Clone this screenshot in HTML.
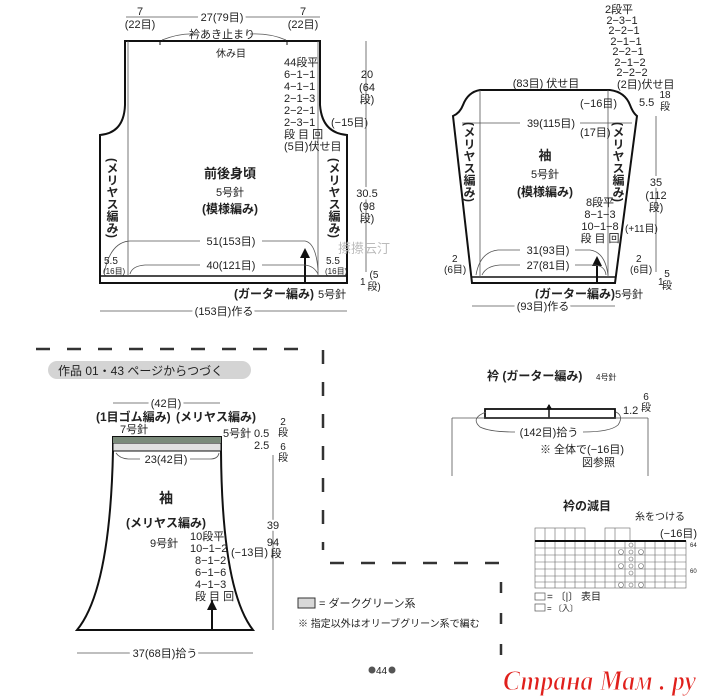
<!DOCTYPE html>
<html><head><meta charset="utf-8"><style>
html,body{margin:0;padding:0;background:#fff;}
svg{display:block;}
text{font-family:"Liberation Sans","Noto Sans CJK JP",sans-serif;fill:#222;}
.s{font-size:10px;}
.m{font-size:11px;}
.b{font-size:12px;font-weight:bold;}
.t{fill:none;stroke:#555;stroke-width:0.8;}
</style></head><body>
<svg width="709" height="700" viewBox="0 0 709 700" xmlns="http://www.w3.org/2000/svg">
<rect width="709" height="700" fill="#fff"/>
<!-- ========== Body ========== -->
<path d="M125,41 L320,41 L320,105 Q322,133 347,135 L347,283 L100,283 L100,135 Q124,133 125,105 Z" fill="none" stroke="#111" stroke-width="2"/>
<line x1="100" y1="276" x2="347" y2="276" stroke="#111" stroke-width="1.5"/>
<line x1="128" y1="41" x2="128" y2="276" class="t"/>
<line x1="318" y1="41" x2="318" y2="276" class="t"/>
<line x1="305" y1="250" x2="305" y2="283" stroke="#111" stroke-width="2"/>
<path d="M300,258 L305,248 L310,258 Z" fill="#111"/>
<line x1="160" y1="41" x2="160" y2="45" stroke="#111"/>
<line x1="287" y1="41" x2="287" y2="45" stroke="#111"/>
<line x1="126" y1="17" x2="320" y2="17" class="t"/>
<text x="140" y="15" class="m" text-anchor="middle">7</text>
<text x="140" y="28" class="m" text-anchor="middle">(22目)</text>
<text x="222" y="21" class="m" text-anchor="middle" style="paint-order:stroke;stroke:#fff;stroke-width:6px">27(79目)</text>
<text x="303" y="15" class="m" text-anchor="middle">7</text>
<text x="303" y="28" class="m" text-anchor="middle">(22目)</text>
<path d="M162,40 Q180,33 195,34 M250,34 Q270,33 286,40" class="t"/>
<text x="222" y="38" class="m" text-anchor="middle">衿あき止まり</text>
<text x="231" y="57" class="s" text-anchor="middle">休み目</text>
<text x="284" y="66" class="m">44段平</text>
<text x="284" y="78" class="m">6−1−1</text>
<text x="284" y="90" class="m">4−1−1</text>
<text x="284" y="102" class="m">2−1−3</text>
<text x="284" y="114" class="m">2−2−1</text>
<text x="284" y="126" class="m">2−3−1</text>
<text x="284" y="138" class="m">段 目 回</text>
<text x="284" y="150" class="m">(5目)伏せ目</text>
<text x="331" y="126" class="m">(−15目)</text>
<line x1="366" y1="41" x2="366" y2="272" class="t"/>
<text x="367" y="78" class="m" text-anchor="middle">20</text>
<text x="367" y="91" class="m" text-anchor="middle">(64</text>
<text x="367" y="103" class="m" text-anchor="middle">段)</text>
<text x="367" y="197" class="m" text-anchor="middle" style="paint-order:stroke;stroke:#fff;stroke-width:5px">30.5</text>
<text x="367" y="210" class="m" text-anchor="middle">(98</text>
<text x="367" y="222" class="m" text-anchor="middle">段)</text>
<text x="360" y="285" class="s">1</text>
<text x="374" y="278" class="s" text-anchor="middle">(5</text>
<text x="374" y="290" class="s" text-anchor="middle">段)</text>
<text x="230" y="178" class="b" text-anchor="middle" style="font-size:13px">前後身頃</text>
<text x="230" y="196" class="m" text-anchor="middle">5号針</text>
<text x="230" y="213" class="b" text-anchor="middle">(模様編み)</text>
<text x="112" y="198" class="b" text-anchor="middle" style="writing-mode:vertical-rl">(メリヤス編み)</text>
<text x="334" y="198" class="b" text-anchor="middle" style="writing-mode:vertical-rl">(メリヤス編み)</text>
<path d="M104,274 Q110,242 130,241 L200,241 M262,241 L305,241 Q316,243 318,270" class="t"/>
<text x="231" y="245" class="m" text-anchor="middle">51(153目)</text>
<path d="M130,274 Q132,266 145,265 L200,265 M262,265 L305,265 Q314,266 318,274" class="t"/>
<text x="231" y="269" class="m" text-anchor="middle">40(121目)</text>
<text x="104" y="264" class="s">5.5</text>
<text x="103" y="274" class="s" style="font-size:8px">(16目)</text>
<text x="326" y="264" class="s">5.5</text>
<text x="325" y="274" class="s" style="font-size:8px">(16目)</text>
<text x="234" y="298" class="b">(ガーター編み)</text>
<text x="318" y="298" class="m">5号針</text>
<line x1="100" y1="311" x2="347" y2="311" class="t"/>
<text x="224" y="315" class="m" text-anchor="middle" style="paint-order:stroke;stroke:#fff;stroke-width:6px">(153目)作る</text>
<text x="338" y="253" style="font-size:13px;fill:#bbb">攃攃云汀</text>

<!-- ========== Sleeve top right ========== -->
<path d="M480,90 L610,90 Q625,92 630,105 Q633,113 637,116 L615,283 L472,283 L453,116 Q460,113 463,105 Q468,92 480,90 Z" fill="none" stroke="#111" stroke-width="2"/>
<line x1="472" y1="277" x2="615" y2="277" stroke="#111" stroke-width="1.5"/>
<line x1="480" y1="90" x2="480" y2="277" class="t"/>
<line x1="608" y1="90" x2="608" y2="277" class="t"/>
<line x1="597" y1="258" x2="597" y2="283" stroke="#111" stroke-width="2"/>
<path d="M592,266 L597,256 L602,266 Z" fill="#111"/>
<text x="546" y="87" class="m" text-anchor="middle">(83目) 伏せ目</text>
<text x="619" y="13" class="m" text-anchor="middle">2段平</text>
<text x="622" y="24" class="m" text-anchor="middle">2−3−1</text>
<text x="624" y="34" class="m" text-anchor="middle">2−2−1</text>
<text x="626" y="45" class="m" text-anchor="middle">2−1−1</text>
<text x="628" y="55" class="m" text-anchor="middle">2−2−1</text>
<text x="630" y="66" class="m" text-anchor="middle">2−1−2</text>
<text x="632" y="76" class="m" text-anchor="middle">2−2−2</text>
<text x="617" y="88" class="m">(2目)伏せ目</text>
<text x="580" y="107" class="m">(−16目)</text>
<text x="639" y="106" class="m">5.5</text>
<text x="665" y="98" class="s" text-anchor="middle">18</text>
<text x="665" y="110" class="s" text-anchor="middle">段</text>
<line x1="656" y1="116" x2="656" y2="272" class="t"/>
<line x1="462" y1="123" x2="520" y2="123" class="t"/>
<line x1="580" y1="123" x2="632" y2="123" class="t"/>
<text x="551" y="127" class="m" text-anchor="middle">39(115目)</text>
<text x="580" y="136" class="m">(17目)</text>
<text x="469" y="162" class="b" text-anchor="middle" style="writing-mode:vertical-rl">(メリヤス編み)</text>
<text x="618" y="162" class="b" text-anchor="middle" style="writing-mode:vertical-rl">(メリヤス編み)</text>
<text x="545" y="160" class="b" text-anchor="middle" style="font-size:13px">袖</text>
<text x="545" y="178" class="m" text-anchor="middle">5号針</text>
<text x="545" y="196" class="b" text-anchor="middle">(模様編み)</text>
<text x="600" y="206" class="m" text-anchor="middle">8段平</text>
<text x="600" y="218" class="m" text-anchor="middle">8−1−3</text>
<text x="600" y="230" class="m" text-anchor="middle">10−1−8</text>
<text x="600" y="242" class="m" text-anchor="middle">段 目 回</text>
<text x="656" y="186" class="m" text-anchor="middle" style="paint-order:stroke;stroke:#fff;stroke-width:5px">35</text>
<text x="656" y="199" class="m" text-anchor="middle">(112</text>
<text x="656" y="211" class="m" text-anchor="middle">段)</text>
<text x="625" y="232" class="s">(+11目)</text>
<path d="M476,275 Q480,252 498,250 L520,250 M575,250 L590,250 Q605,252 608,275" class="t"/>
<text x="548" y="254" class="m" text-anchor="middle">31(93目)</text>
<path d="M482,275 Q486,266 500,265 L520,265 M575,265 L595,265 Q605,266 606,275" class="t"/>
<text x="548" y="269" class="m" text-anchor="middle">27(81目)</text>
<text x="452" y="262" class="s">2</text>
<text x="444" y="273" class="s">(6目)</text>
<text x="636" y="262" class="s">2</text>
<text x="630" y="273" class="s">(6目)</text>
<text x="658" y="285" class="s">1</text>
<text x="667" y="277" class="s" text-anchor="middle">5</text>
<text x="667" y="289" class="s" text-anchor="middle">段</text>
<text x="535" y="298" class="b">(ガーター編み)</text>
<text x="615" y="298" class="m">5号針</text>
<line x1="472" y1="306" x2="615" y2="306" class="t"/>
<text x="543" y="310" class="m" text-anchor="middle" style="paint-order:stroke;stroke:#fff;stroke-width:6px">(93目)作る</text>

<!-- ========== Dashes ========== -->
<line x1="36" y1="349" x2="310" y2="349" stroke="#333" stroke-width="2.5" stroke-dasharray="14,17"/>
<line x1="323" y1="350" x2="323" y2="550" stroke="#333" stroke-width="2.5" stroke-dasharray="14,18"/>
<line x1="330" y1="563" x2="503" y2="563" stroke="#333" stroke-width="2.5" stroke-dasharray="14,17"/>
<line x1="501" y1="582" x2="501" y2="660" stroke="#333" stroke-width="2.5" stroke-dasharray="11,20"/>

<rect x="48" y="361" width="203" height="18" rx="9" fill="#d4d4d4"/>
<text x="58" y="375" class="m" style="font-size:12px">作品 01・43 ページからつづく</text>

<!-- ========== Sleeve bottom ========== -->
<path d="M113,437 L221,437 L221,451 Q222,590 253,630 L77,630 Q110,590 113,451 Z" fill="none" stroke="#111" stroke-width="2"/>
<rect x="113" y="443" width="108" height="8" fill="#e0e0e0" stroke="#111" stroke-width="1"/>
<rect x="113" y="437" width="108" height="6" fill="#7a8a7a"/>
<line x1="212" y1="600" x2="212" y2="630" stroke="#111" stroke-width="2"/>
<path d="M207,610 L212,600 L217,610 Z" fill="#111"/>
<line x1="113" y1="403" x2="220" y2="403" class="t"/>
<text x="166" y="407" class="m" text-anchor="middle" style="paint-order:stroke;stroke:#fff;stroke-width:6px">(42目)</text>
<text x="96" y="421" class="b">(1目ゴム編み)</text>
<text x="176" y="421" class="b">(メリヤス編み)</text>
<text x="120" y="433" class="m">7号針</text>
<text x="223" y="437" class="m">5号針</text>
<text x="254" y="437" class="m">0.5</text>
<text x="254" y="449" class="m">2.5</text>
<text x="283" y="425" class="s" text-anchor="middle">2</text>
<text x="283" y="436" class="s" text-anchor="middle">段</text>
<text x="283" y="450" class="s" text-anchor="middle">6</text>
<text x="283" y="461" class="s" text-anchor="middle">段</text>
<line x1="273" y1="455" x2="273" y2="630" class="t"/>
<path d="M116,453 Q120,459 130,459 L140,459 M190,459 L210,459 Q218,459 219,453" class="t"/>
<text x="166" y="463" class="m" text-anchor="middle">23(42目)</text>
<text x="166" y="503" class="b" text-anchor="middle" style="font-size:14px">袖</text>
<text x="166" y="527" class="b" text-anchor="middle">(メリヤス編み)</text>
<text x="150" y="547" class="m">9号針</text>
<text x="190" y="540" class="m">10段平</text>
<text x="190" y="552" class="m">10−1−2</text>
<text x="195" y="564" class="m">8−1−2</text>
<text x="195" y="576" class="m">6−1−6</text>
<text x="195" y="588" class="m">4−1−3</text>
<text x="195" y="600" class="m">段 目 回</text>
<text x="231" y="556" class="m">(−13目)</text>
<text x="273" y="529" class="m" text-anchor="middle" style="paint-order:stroke;stroke:#fff;stroke-width:5px">39</text>
<text x="273" y="546" class="m" text-anchor="middle">94</text>
<text x="276" y="557" class="m" text-anchor="middle">段</text>
<line x1="77" y1="653" x2="253" y2="653" class="t"/>
<text x="165" y="657" class="m" text-anchor="middle" style="paint-order:stroke;stroke:#fff;stroke-width:6px">37(68目)拾う</text>

<rect x="298" y="598" width="17" height="10" fill="#d8d8d8" stroke="#333"/>
<text x="319" y="607" class="m">= ダークグリーン系</text>
<text x="298" y="627" class="s">※ 指定以外はオリーブグリーン系で編む</text>
<circle cx="372" cy="670" r="3.5" fill="#555"/><text x="376" y="674" class="s">44</text><circle cx="392" cy="670" r="3.5" fill="#555"/>

<!-- ========== Collar ========== -->
<text x="487" y="380" class="b">衿 (ガーター編み)</text>
<text x="596" y="380" class="s" style="font-size:8px">4号針</text>
<rect x="485" y="409" width="130" height="9" fill="none" stroke="#111" stroke-width="1.8"/>
<line x1="549" y1="405" x2="549" y2="418" stroke="#111" stroke-width="1.5"/>
<path d="M546,409 L549,404 L552,409 Z" fill="#111"/>
<line x1="452" y1="418" x2="648" y2="418" class="t"/>
<line x1="452" y1="418" x2="452" y2="476" class="t"/>
<line x1="648" y1="418" x2="648" y2="476" class="t"/>
<path d="M486,412 Q470,418 480,427 Q490,432 515,432 M583,432 Q610,432 618,425 Q624,416 616,412" class="t"/>
<text x="549" y="436" class="m" text-anchor="middle">(142目)拾う</text>
<text x="623" y="414" class="m">1.2</text>
<text x="646" y="400" class="s" text-anchor="middle">6</text>
<text x="646" y="411" class="s" text-anchor="middle">段</text>
<text x="540" y="453" class="m">※ 全体で(−16目)</text>
<text x="582" y="466" class="m">図参照</text>

<!-- ========== Chart ========== -->
<text x="563" y="510" class="b">衿の減目</text>
<text x="635" y="520" class="s">糸をつける</text>
<text x="660" y="537" class="m">(−16目)</text>
<g stroke="#666" stroke-width="0.6" fill="none">
<rect x="535" y="528" width="50" height="13"/>
<line x1="545" y1="528" x2="545" y2="541"/><line x1="555" y1="528" x2="555" y2="541"/><line x1="565" y1="528" x2="565" y2="541"/><line x1="575" y1="528" x2="575" y2="541"/>
<rect x="605" y="528" width="25" height="13"/><line x1="615" y1="528" x2="615" y2="541"/>
<rect x="535" y="541" width="151" height="47"/>
<line x1="535" y1="548" x2="686" y2="548"/><line x1="535" y1="555" x2="686" y2="555"/><line x1="535" y1="562" x2="686" y2="562"/><line x1="535" y1="569" x2="686" y2="569"/><line x1="535" y1="576" x2="686" y2="576"/><line x1="535" y1="582" x2="686" y2="582"/>
<line x1="545" y1="541" x2="545" y2="588"/><line x1="555" y1="541" x2="555" y2="588"/><line x1="565" y1="541" x2="565" y2="588"/><line x1="575" y1="541" x2="575" y2="588"/><line x1="585" y1="541" x2="585" y2="588"/><line x1="595" y1="541" x2="595" y2="588"/><line x1="605" y1="541" x2="605" y2="588"/><line x1="615" y1="541" x2="615" y2="588"/><line x1="625" y1="541" x2="625" y2="588"/><line x1="635" y1="541" x2="635" y2="588"/><line x1="645" y1="541" x2="645" y2="588"/><line x1="655" y1="541" x2="655" y2="588"/><line x1="665" y1="541" x2="665" y2="588"/><line x1="675" y1="541" x2="675" y2="588"/>
<circle cx="621" cy="552" r="2.5"/><circle cx="641" cy="552" r="2.5"/><circle cx="621" cy="566" r="2.5"/><circle cx="641" cy="566" r="2.5"/><circle cx="621" cy="585" r="2.5"/><circle cx="641" cy="585" r="2.5"/>
<circle cx="631" cy="545" r="2"/><circle cx="631" cy="552" r="2"/><circle cx="631" cy="559" r="2"/><circle cx="631" cy="566" r="2"/><circle cx="631" cy="573" r="2"/><circle cx="631" cy="585" r="2"/>
</g>
<line x1="535" y1="541" x2="686" y2="541" stroke="#111" stroke-width="2"/>
<text x="690" y="547" class="s" style="font-size:6px">64</text>
<text x="690" y="573" class="s" style="font-size:6px">60</text>
<rect x="535" y="593" width="10" height="7" fill="none" stroke="#555" stroke-width="0.7"/>
<text x="547" y="600" class="s">= 〔|〕 表目</text>
<rect x="535" y="604" width="10" height="7" fill="none" stroke="#555" stroke-width="0.7"/>
<text x="547" y="611" class="s" style="font-size:8px">= 〔入〕</text>

<text x="503" y="690" textLength="193" lengthAdjust="spacingAndGlyphs" style="font-family:'Liberation Serif',serif;font-style:italic;font-weight:bold;font-size:29px;fill:#e0201c;stroke:#fff;stroke-width:1">Страна Мам . ру</text>
</svg>
</body></html>
